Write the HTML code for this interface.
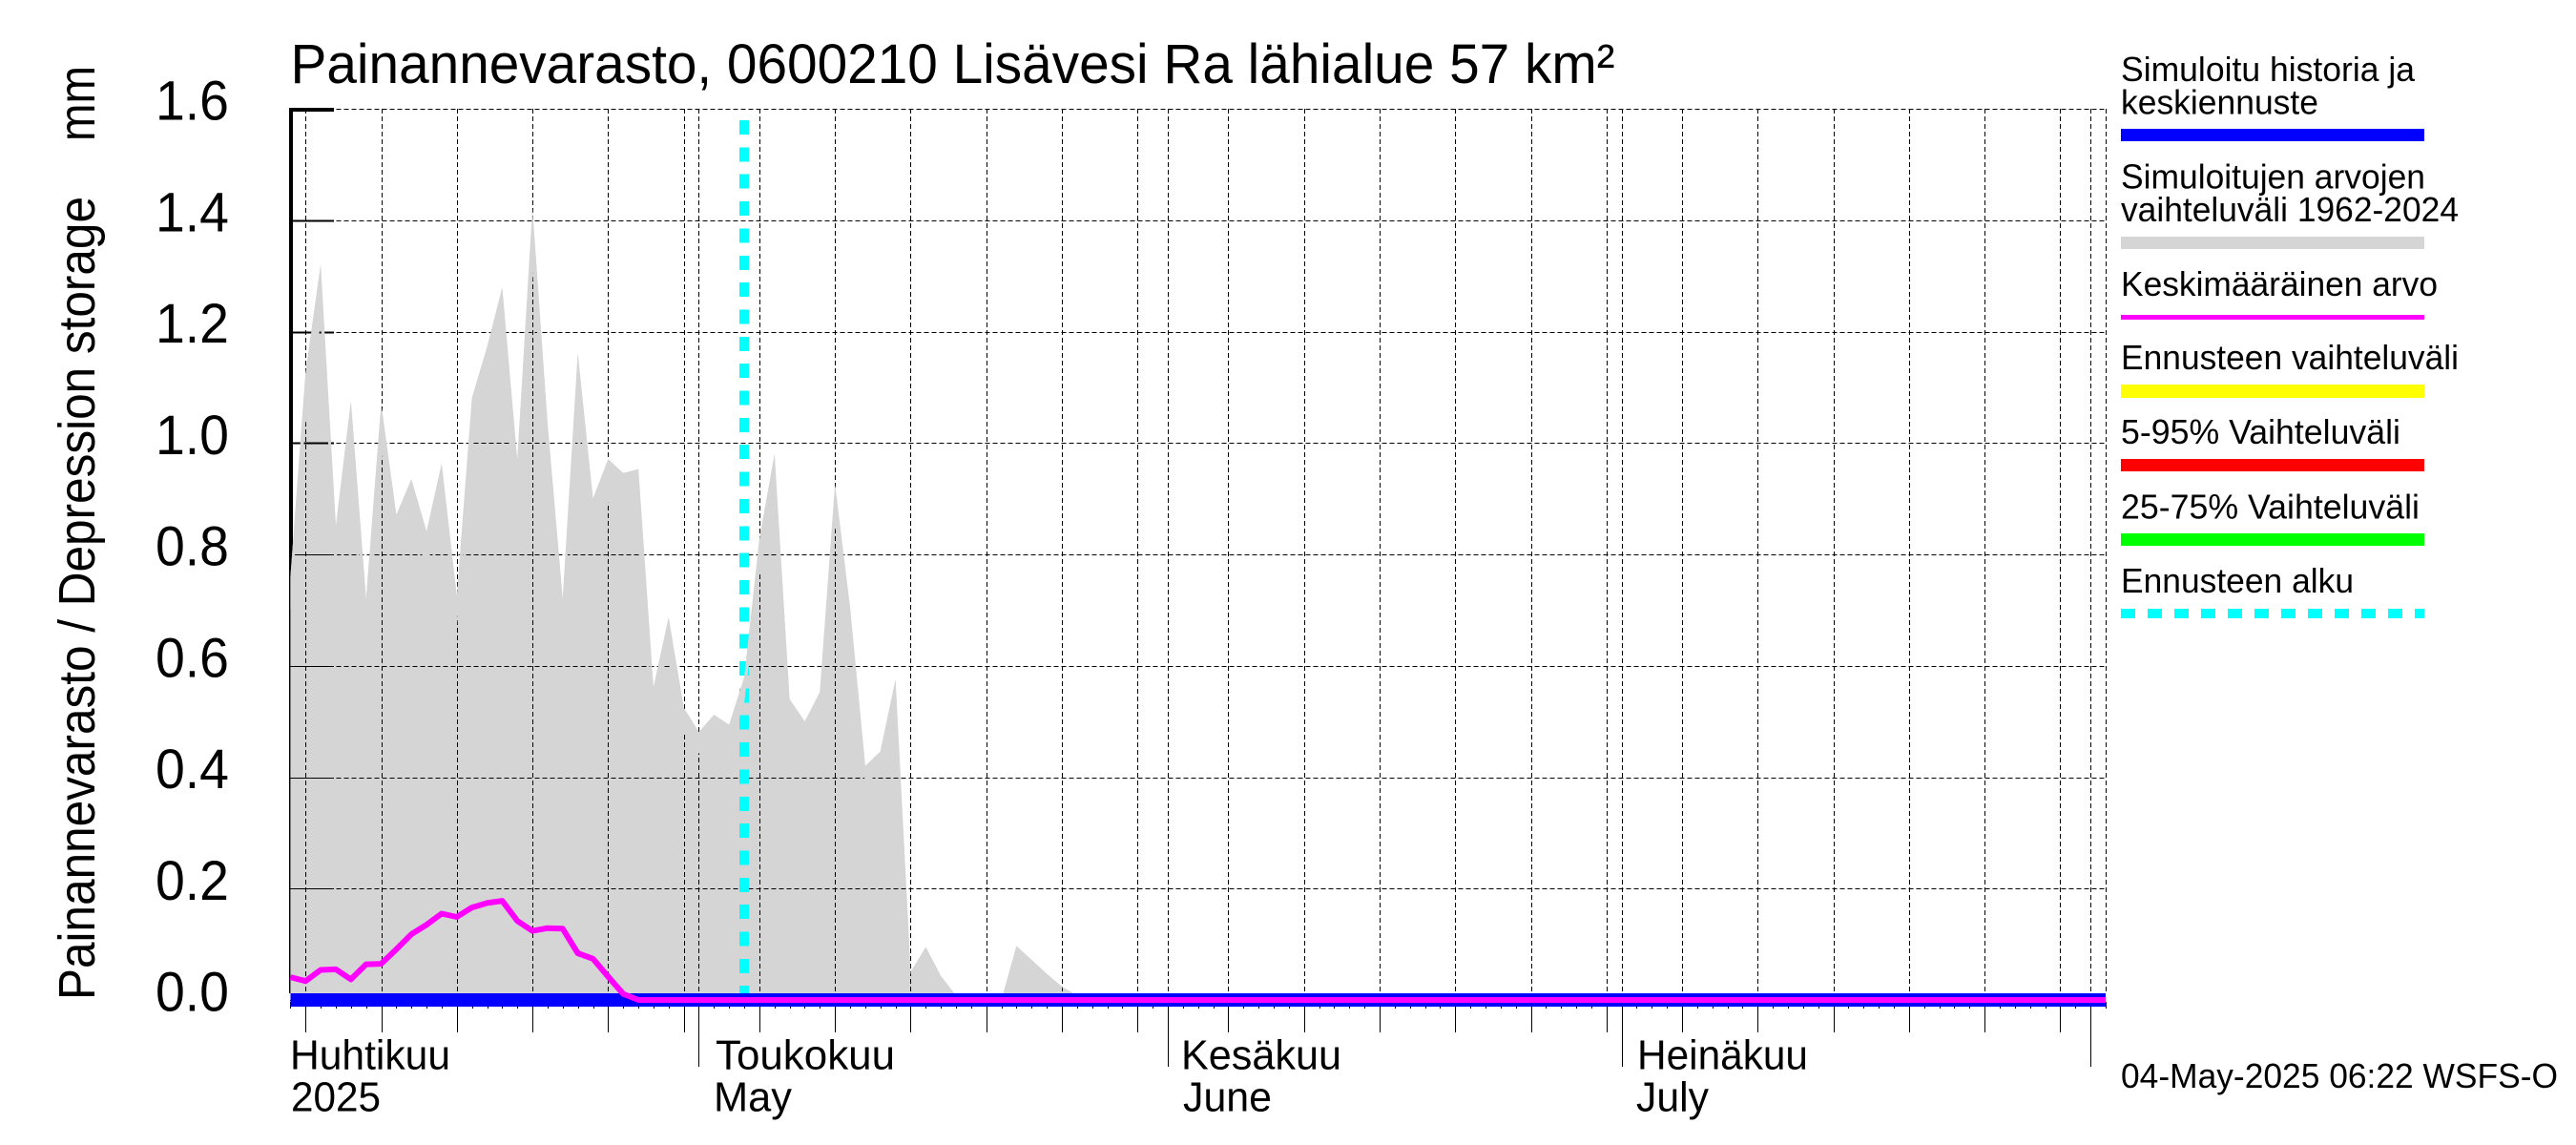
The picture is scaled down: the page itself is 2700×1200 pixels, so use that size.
<!DOCTYPE html>
<html lang="fi">
<head>
<meta charset="utf-8">
<title>Painannevarasto, 0600210 Lisävesi Ra lähialue</title>
<style>
html,body{margin:0;padding:0;background:#fff;width:2700px;height:1200px;overflow:hidden}
svg{display:block}
text{font-family:"Liberation Sans",sans-serif;fill:#000}
</style>
</head>
<body>
<svg id="chart" xmlns="http://www.w3.org/2000/svg" width="2700" height="1200" viewBox="0 0 2700 1200">
  <rect x="0" y="0" width="2700" height="1200" fill="#fff"/>
  <g id="plot"></g>

  <text x="304.5" y="87" font-size="58" textLength="1388" lengthAdjust="spacingAndGlyphs">Painannevarasto, 0600210 Lisävesi Ra lähialue 57 km²</text>
  <text transform="translate(99,1048) rotate(-90)" font-size="54" textLength="842" lengthAdjust="spacingAndGlyphs">Painannevarasto / Depression storage</text>
  <text transform="translate(99,148) rotate(-90)" font-size="54" textLength="79" lengthAdjust="spacingAndGlyphs">mm</text>

  <g font-size="44">
    <text x="304" y="1120.5" textLength="168" lengthAdjust="spacingAndGlyphs">Huhtikuu</text>
    <text x="305" y="1164.5" textLength="94" lengthAdjust="spacingAndGlyphs">2025</text>
    <text x="750" y="1120.5" textLength="188" lengthAdjust="spacingAndGlyphs">Toukokuu</text>
    <text x="748" y="1164.5" textLength="82" lengthAdjust="spacingAndGlyphs">May</text>
    <text x="1238" y="1120.5" textLength="168" lengthAdjust="spacingAndGlyphs">Kesäkuu</text>
    <text x="1240" y="1164.5" textLength="93" lengthAdjust="spacingAndGlyphs">June</text>
    <text x="1716" y="1120.5" textLength="179" lengthAdjust="spacingAndGlyphs">Heinäkuu</text>
    <text x="1715" y="1164.5" textLength="76" lengthAdjust="spacingAndGlyphs">July</text>
  </g>

  <g font-size="36">
    <text x="2223" y="85" textLength="308" lengthAdjust="spacingAndGlyphs">Simuloitu historia ja</text>
    <text x="2223" y="119.5" textLength="207" lengthAdjust="spacingAndGlyphs">keskiennuste</text>
    <rect x="2223" y="135" width="318" height="13" fill="#0000ff"/>
    <text x="2223" y="197.5" textLength="319" lengthAdjust="spacingAndGlyphs">Simuloitujen arvojen</text>
    <text x="2223" y="232" textLength="354" lengthAdjust="spacingAndGlyphs">vaihteluväli 1962-2024</text>
    <rect x="2223" y="248" width="318" height="13" fill="#d5d5d5"/>
    <text x="2223" y="310" textLength="332" lengthAdjust="spacingAndGlyphs">Keskimääräinen arvo</text>
    <rect x="2223" y="330" width="318" height="5" fill="#ff00ff"/>
    <text x="2223" y="387" textLength="354" lengthAdjust="spacingAndGlyphs">Ennusteen vaihteluväli</text>
    <rect x="2223" y="403" width="318" height="14" fill="#ffff00"/>
    <text x="2223" y="465" textLength="293" lengthAdjust="spacingAndGlyphs">5-95% Vaihteluväli</text>
    <rect x="2223" y="481" width="318" height="13" fill="#ff0000"/>
    <text x="2223" y="543.5" textLength="313" lengthAdjust="spacingAndGlyphs">25-75% Vaihteluväli</text>
    <rect x="2223" y="559" width="318" height="13" fill="#00ff00"/>
    <text x="2223" y="621" textLength="244" lengthAdjust="spacingAndGlyphs">Ennusteen alku</text>
    <line x1="2223" y1="643" x2="2541" y2="643" stroke="#00ffff" stroke-width="10" stroke-dasharray="15 13"/>
  </g>

  <text x="2223" y="1140" font-size="36" textLength="458" lengthAdjust="spacingAndGlyphs">04-May-2025 06:22 WSFS-O</text>
</svg>

<script>
const yTickValues = [0, 0.2, 0.4, 0.6, 0.8, 1.0, 1.2, 1.4, 1.6];
const yTickLabels = ['0.0', '0.2', '0.4', '0.6', '0.8', '1.0', '1.2', '1.4', '1.6'];
const monthStartDays = [-3, 27, 58, 88, 119];
const monthLengths = [30, 31, 30, 31, 31];
const gridDaysOfMonth = [5, 10, 15, 20, 25, 30];
const forecastStartDay = 30;

const simulatedMax = [
  0.76, 1.127, 1.32, 0.851, 1.075, 0.72, 1.07, 0.871, 0.935, 0.841,
  0.963, 0.725, 1.081, 1.172, 1.279, 0.969, 1.42, 1.035, 0.72, 1.161,
  0.90, 0.971, 0.946, 0.953, 0.561, 0.687, 0.525, 0.481, 0.512, 0.494,
  0.579, 0.827, 0.98, 0.54, 0.50, 0.553, 0.925, 0.705, 0.42, 0.446,
  0.575, 0.05, 0.095, 0.043, 0.008, 0, 0, 0, 0.097, 0.072,
  0.047, 0.024, 0.008, 0, 0, 0, 0, 0, 0, 0,
  0, 0, 0, 0, 0, 0, 0, 0, 0, 0,
  0, 0, 0, 0, 0, 0, 0, 0, 0, 0,
  0, 0, 0, 0, 0, 0, 0, 0, 0, 0,
  0, 0, 0, 0, 0, 0, 0, 0, 0, 0,
  0, 0, 0, 0, 0, 0, 0, 0, 0, 0,
  0, 0, 0, 0, 0, 0, 0, 0, 0, 0,
  0
];
const simulatedMean = [
  0.041, 0.034, 0.054, 0.055, 0.037, 0.064, 0.065, 0.091, 0.118, 0.135,
  0.155, 0.149, 0.166, 0.174, 0.178, 0.142, 0.124, 0.129, 0.128, 0.084,
  0.074, 0.042, 0.011, 0, 0, 0, 0, 0, 0, 0,
  0, 0, 0, 0, 0, 0, 0, 0, 0, 0,
  0, 0, 0, 0, 0, 0, 0, 0, 0, 0,
  0, 0, 0, 0, 0, 0, 0, 0, 0, 0,
  0, 0, 0, 0, 0, 0, 0, 0, 0, 0,
  0, 0, 0, 0, 0, 0, 0, 0, 0, 0,
  0, 0, 0, 0, 0, 0, 0, 0, 0, 0,
  0, 0, 0, 0, 0, 0, 0, 0, 0, 0,
  0, 0, 0, 0, 0, 0, 0, 0, 0, 0,
  0, 0, 0, 0, 0, 0, 0, 0, 0, 0,
  0
];
const historyValues = [
  0, 0, 0, 0, 0, 0, 0, 0, 0, 0,
  0, 0, 0, 0, 0, 0, 0, 0, 0, 0,
  0, 0, 0, 0, 0, 0, 0, 0, 0, 0,
  0, 0, 0, 0, 0, 0, 0, 0, 0, 0,
  0, 0, 0, 0, 0, 0, 0, 0, 0, 0,
  0, 0, 0, 0, 0, 0, 0, 0, 0, 0,
  0, 0, 0, 0, 0, 0, 0, 0, 0, 0,
  0, 0, 0, 0, 0, 0, 0, 0, 0, 0,
  0, 0, 0, 0, 0, 0, 0, 0, 0, 0,
  0, 0, 0, 0, 0, 0, 0, 0, 0, 0,
  0, 0, 0, 0, 0, 0, 0, 0, 0, 0,
  0, 0, 0, 0, 0, 0, 0, 0, 0, 0,
  0
];

const SVG_NS = 'http://www.w3.org/2000/svg';
const plot = document.getElementById('plot');
const LAST_DAY = 120;

function xScale(day) { return 304.4 + 15.855 * day; }
function yScale(value) { return 1048 - 583.75 * value; }
function px(v) { return Math.round(v) + 0.5; }

function make(tag, attrs) {
  const el = document.createElementNS(SVG_NS, tag);
  for (const key in attrs) el.setAttribute(key, attrs[key]);
  plot.appendChild(el);
  return el;
}

function linePoints(values) {
  return values.map(function (v, i) { return xScale(i).toFixed(1) + ',' + yScale(v).toFixed(1); }).join(' ');
}

const gridStyle = { stroke: '#000', 'stroke-width': 1, 'stroke-dasharray': '5 3', 'shape-rendering': 'crispEdges' };

// Thick left axis (sits under the grey range, which hides most of it)
const leftAxis = make('line', { x1: 305, y1: 113, x2: 305, y2: 1041, stroke: '#000', 'stroke-width': 4, 'shape-rendering': 'crispEdges' });



// Grey simulated range
const rangeArea = make('polygon', {
  points: xScale(0) + ',' + yScale(0) + ' ' + linePoints(simulatedMax) + ' ' + xScale(LAST_DAY) + ',' + yScale(0),
  fill: '#d5d5d5'
});



// Horizontal grid + y ticks + labels
yTickValues.forEach(function (value, i) {
  const y = yScale(value);
  const grid = make('line', Object.assign({ x1: xScale(0), y1: px(y), x2: xScale(LAST_DAY) + 1, y2: px(y) }, gridStyle));
  
  
  const isTop = i === yTickValues.length - 1;
  const tick = make('line', { x1: 304, y1: isTop ? y + 1 : px(y), x2: 350, y2: isTop ? y + 1 : px(y), stroke: '#000', 'stroke-width': isTop ? 4 : (value >= 1 ? 2 : 1), 'shape-rendering': 'crispEdges' });
  
  
  const label = make('text', { x: 163, y: y + 11.5, 'font-size': 58, textLength: 77, lengthAdjust: 'spacingAndGlyphs' });
  label.textContent = yTickLabels[i];
  
  
});

// Vertical grid and x ticks
function addGridDay(day, tickBottom) {
  const x = px(xScale(day));
  const grid = make('line', Object.assign({ x1: x, y1: 114, x2: x, y2: 1041 }, gridStyle));
  
  
  const tick = make('line', { x1: x, y1: 1050, x2: x, y2: tickBottom, stroke: '#000', 'stroke-width': 1, 'shape-rendering': 'crispEdges' });
  
  
}
monthStartDays.forEach(function (start, m) {
  if (start >= 0) addGridDay(start, 1118);
  gridDaysOfMonth.forEach(function (dom) {
    const day = start + dom - 1;
    if (dom <= monthLengths[m] && day >= 0 && day <= LAST_DAY) addGridDay(day, 1082);
  });
});
historyValues.forEach(function (v, day) {
  const x = px(xScale(day));
  const tick = make('line', { x1: x, y1: 1050, x2: x, y2: 1057, stroke: '#000', 'stroke-width': 1, 'shape-rendering': 'crispEdges' });
  
  
});
const rightEdge = make('line', Object.assign({ x1: 2207.5, y1: 114, x2: 2207.5, y2: 1041 }, gridStyle));



// Forecast start marker
const forecastLine = make('line', {
  x1: xScale(forecastStartDay), y1: 126, x2: xScale(forecastStartDay), y2: 1048,
  stroke: '#00ffff', 'stroke-width': 10, 'stroke-dasharray': '15 13.35', 'shape-rendering': 'crispEdges'
});



// Grey band along the top of the range, which hides grid lines near the edge
const bandLower = simulatedMax.map(function (v) { return v * 0.92; }).reverse();
const bandPoints = linePoints(simulatedMax) + ' ' + bandLower.map(function (v, i) {
  return xScale(simulatedMax.length - 1 - i).toFixed(1) + ',' + yScale(v).toFixed(1);
}).join(' ');
const rangeBand = make('polygon', { points: bandPoints, fill: '#d5d5d5' });



// History line
const historyLine = make('polyline', { points: linePoints(historyValues), fill: 'none', stroke: '#0000ff', 'stroke-width': 14, 'shape-rendering': 'crispEdges' });



// Mean line
const meanLine = make('polyline', { points: linePoints(simulatedMean), fill: 'none', stroke: '#ff00ff', 'stroke-width': 6, 'stroke-linejoin': 'round' });


</script>
</body>
</html>
